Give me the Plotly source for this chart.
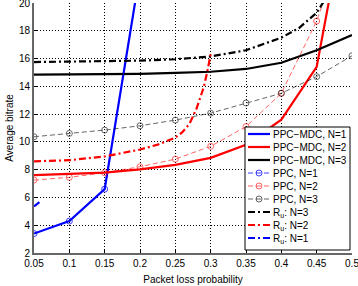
import plotly.graph_objects as go

# ---- data ----
p = [0.05, 0.10, 0.15, 0.20, 0.25, 0.30, 0.35, 0.40, 0.45, 0.50]

mdc_n1_x = [0.05, 0.10, 0.15, 0.20]
mdc_n1_y = [3.4, 4.3, 6.6, 22.2]
mdc_n2_y = [7.61, 7.68, 7.78, 8.02, 8.35, 8.85, 9.8, 11.6, 15.4, 29.0]
mdc_n3_y = [14.85, 14.86, 14.88, 14.9, 14.97, 15.05, 15.25, 15.7, 16.6, 17.7]

ppc_n1_x = [0.05, 0.10, 0.15, 0.20]
ppc_n1_y = [3.4, 4.3, 6.6, 22.2]
ppc_n2_y = [7.25, 7.45, 7.78, 8.21, 8.76, 9.68, 11.1, 13.5, 18.7, 26.0]
ppc_n3_y = [10.37, 10.61, 10.85, 11.16, 11.57, 12.07, 12.8, 13.5, 14.7, 16.2]

ru_n3_x = [0.05, 0.10, 0.15, 0.20, 0.25, 0.30, 0.35, 0.40, 0.425, 0.45, 0.46]
ru_n3_y = [15.75, 15.77, 15.8, 15.85, 15.95, 16.15, 16.6, 17.5, 18.2, 19.3, 20.1]
ru_n2_x = [0.05, 0.10, 0.15, 0.20, 0.225, 0.25, 0.26, 0.27, 0.28, 0.29, 0.295, 0.30]
ru_n2_y = [8.6, 8.68, 8.95, 9.45, 9.8, 10.3, 10.7, 11.3, 12.4, 13.9, 15.0, 16.3]
ru_n1_x = [0.05, 0.0585]
ru_n1_y = [5.35, 5.7]

x_ticks = [0.05, 0.1, 0.15, 0.2, 0.25, 0.3, 0.35, 0.4, 0.45, 0.5]
x_tick_text = ["0.05", "0.1", "0.15", "0.2", "0.25", "0.3", "0.35", "0.4", "0.45", "0.5"]
y_ticks = [2, 4, 6, 8, 10, 12, 14, 16, 18, 20]

BLUE, RED, BLACK = "#0000ff", "#ff0000", "#000000"
FONT = "Liberation Sans, Arial, sans-serif"
DASHDOT = "7px,3px,2px,3px"
DASHED = "5px,3px"

series = [
    ("PPC\u2212MDC, N=1", mdc_n1_x, mdc_n1_y, BLUE, 2.2, "solid", False, 1.0),
    ("PPC\u2212MDC, N=2", p, mdc_n2_y, RED, 2.2, "solid", False, 1.0),
    ("PPC\u2212MDC, N=3", p, mdc_n3_y, BLACK, 2.2, "solid", False, 1.0),
    ("PPC, N=1", ppc_n1_x, ppc_n1_y, BLUE, 1, DASHED, True, 0.75),
    ("PPC, N=2", p, ppc_n2_y, RED, 1, DASHED, True, 0.6),
    ("PPC, N=3", p, ppc_n3_y, BLACK, 1, DASHED, True, 0.6),
    ("R<sub>u</sub>: N=3", ru_n3_x, ru_n3_y, BLACK, 2.2, DASHDOT, False, 1.0),
    ("R<sub>u</sub>: N=2", ru_n2_x, ru_n2_y, RED, 2.2, DASHDOT, False, 1.0),
    ("R<sub>u</sub>: N=1", ru_n1_x, ru_n1_y, BLUE, 2.2, DASHDOT, False, 1.0),
]

fig = go.Figure()
for name, x, y, color, width, dash, marker, op in series:
    fig.add_trace(go.Scatter(
        x=x, y=y, name=name, mode="lines+markers" if marker else "lines",
        line=dict(color=color, width=width, dash=dash),
        marker=dict(symbol="circle-open", size=6, color=color, line=dict(width=1)) if marker else None,
        opacity=op, showlegend=False,
    ))

# ---- hand-drawn compact legend box ----
W, H = 358, 286
L, R, T, B = 34, 6, 3, 33
PW, PH = W - L - R, H - T - B

def px(xp):
    return (xp - L) / PW

def py(yp):
    return (H - B - yp) / PH

shapes = [dict(type="rect", xref="paper", yref="paper",
               x0=px(245), x1=px(350), y0=py(250), y1=py(127),
               fillcolor="white", line=dict(color="#000", width=1), layer="above")]
annotations = []
for i, (name, x, y, color, width, dash, marker, op) in enumerate(series):
    yc = 134 + 13 * i
    shapes.append(dict(type="line", xref="paper", yref="paper",
                       x0=px(248), x1=px(270), y0=py(yc), y1=py(yc),
                       line=dict(color=color, width=width, dash=dash),
                       opacity=op, layer="above"))
    if marker:
        shapes.append(dict(type="circle", xref="paper", yref="paper",
                           xsizemode="pixel", ysizemode="pixel",
                           xanchor=px(259), yanchor=py(yc),
                           x0=-3, x1=3, y0=-3, y1=3,
                           line=dict(color=color, width=1), opacity=op, layer="above"))
    annotations.append(dict(xref="paper", yref="paper", x=px(272), y=py(yc + 0.5),
                            xanchor="left", yanchor="middle", showarrow=False,
                            borderpad=0, text=name,
                            font=dict(family=FONT, size=10, color="#000")))

axis_common = dict(
    showgrid=True, gridcolor="#000000", griddash="1px,2px", gridwidth=1,
    ticks="inside", ticklen=3, tickcolor="#000", zeroline=False,
    showline=True, linecolor="#666666", linewidth=2,
    ticklabeloverflow="allow", automargin=False,
    tickfont=dict(family=FONT, size=10, color="#000"),
)

fig.update_layout(
    width=W, height=H,
    margin=dict(l=L, r=R, t=T, b=B),
    paper_bgcolor="white", plot_bgcolor="white",
    font=dict(family=FONT, size=10, color="#000"),
    showlegend=False,
    shapes=shapes, annotations=annotations,
    xaxis=dict(range=[0.05, 0.5], tickvals=x_ticks, ticktext=x_tick_text,
               title=dict(text="Packet loss probability", font=dict(size=10), standoff=8),
               **axis_common),
    yaxis=dict(range=[2, 20], tickvals=y_ticks,
               title=dict(text="Average bitrate", font=dict(size=10), standoff=3),
               **axis_common),
)

fig.write_html("out.html", config={"displayModeBar": False},
               post_script="document.body.style.margin='0px';")
